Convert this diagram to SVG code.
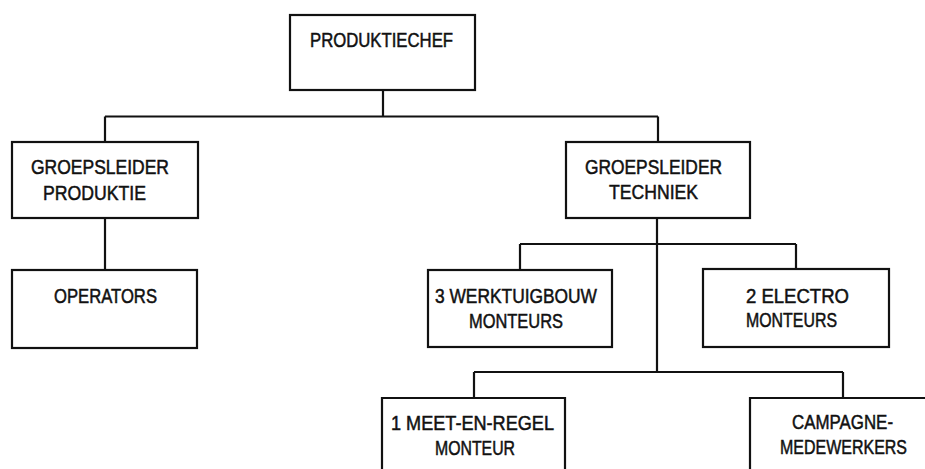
<svg xmlns="http://www.w3.org/2000/svg" width="925" height="469" viewBox="0 0 925 469">
<style>
.box{fill:#fff;stroke:#111;stroke-width:2.2}
.ln{fill:none;stroke:#111;stroke-width:2.2}
text{font-family:"Liberation Sans","DejaVu Sans",sans-serif;font-size:20px;fill:#111;stroke:#111;stroke-width:0.5}
</style>
<rect width="925" height="469" fill="#fff"/>
<g id="connectors">
<path class="ln" d="M383 90V116.5M105 116.5H658M105 116.5V142M658 116.5V142"/>
<path class="ln" d="M105 218V270"/>
<path class="ln" d="M657 218V372M520 244H796M520 244V270M796 244V269M474 372H843M474 372V398M843 372V398"/>
</g>
<g id="produktiechef">
<rect class="box" x="290" y="15" width="185" height="75"/>
<text x="310" y="47" textLength="143" lengthAdjust="spacingAndGlyphs">PRODUKTIECHEF</text>
</g>
<g id="groepsleider-produktie">
<rect class="box" x="12" y="142" width="186" height="76"/>
<text x="31" y="174" textLength="138" lengthAdjust="spacingAndGlyphs">GROEPSLEIDER</text>
<text x="43" y="200" textLength="103" lengthAdjust="spacingAndGlyphs">PRODUKTIE</text>
</g>
<g id="operators">
<rect class="box" x="12" y="270" width="185" height="78"/>
<text x="54" y="303" textLength="103" lengthAdjust="spacingAndGlyphs">OPERATORS</text>
</g>
<g id="groepsleider-techniek">
<rect class="box" x="566" y="142" width="184" height="76"/>
<text x="585" y="174" textLength="137" lengthAdjust="spacingAndGlyphs">GROEPSLEIDER</text>
<text x="609" y="199" textLength="89" lengthAdjust="spacingAndGlyphs">TECHNIEK</text>
</g>
<g id="werktuigbouw">
<rect class="box" x="428" y="270" width="184" height="77"/>
<text x="435" y="303" textLength="162" lengthAdjust="spacingAndGlyphs">3 WERKTUIGBOUW</text>
<text x="469" y="328" textLength="94" lengthAdjust="spacingAndGlyphs">MONTEURS</text>
</g>
<g id="electro">
<rect class="box" x="703" y="269" width="186" height="78"/>
<text x="746" y="303" textLength="103" lengthAdjust="spacingAndGlyphs">2 ELECTRO</text>
<text x="746" y="327" textLength="91" lengthAdjust="spacingAndGlyphs">MONTEURS</text>
</g>
<g id="meet-en-regel">
<path class="ln" d="M382 469V398H565V469"/>
<text x="391" y="430" textLength="163" lengthAdjust="spacingAndGlyphs">1 MEET-EN-REGEL</text>
<text x="435" y="455" textLength="80" lengthAdjust="spacingAndGlyphs">MONTEUR</text>
</g>
<g id="campagne">
<path class="ln" d="M750 469V398H925"/>
<text x="792" y="429" textLength="101" lengthAdjust="spacingAndGlyphs">CAMPAGNE-</text>
<text x="780" y="454" textLength="127" lengthAdjust="spacingAndGlyphs">MEDEWERKERS</text>
</g>
</svg>
